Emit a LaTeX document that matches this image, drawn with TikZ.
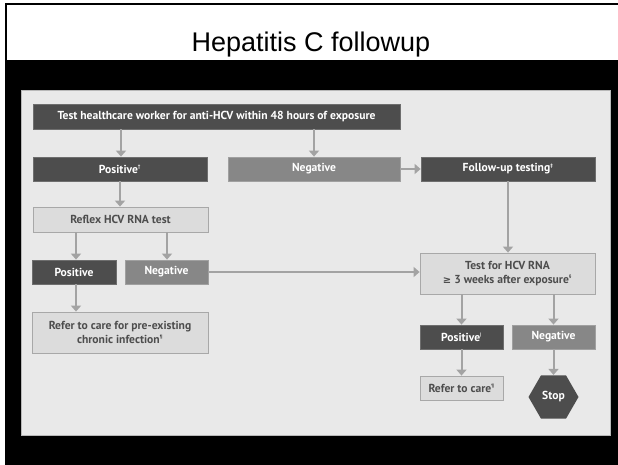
\documentclass[tikz,border=0pt]{standalone}
\usepackage{fontspec}
\setmainfont{PT Sans}
\newfontfamily\titlefont{Liberation Sans}
\newfontfamily\symfont{DejaVu Sans}
\usetikzlibrary{arrows.meta,shapes.geometric}
\definecolor{panelbg}{HTML}{E9E9E9}
\definecolor{panelline}{HTML}{B8B8B8}
\definecolor{darkbox}{HTML}{4D4D4D}
\definecolor{darkline}{HTML}{6E6E6E}
\definecolor{midbox}{HTML}{878787}
\definecolor{midline}{HTML}{A0A0A0}
\definecolor{lightbox}{HTML}{DCDCDC}
\definecolor{lightline}{HTML}{A8A8A8}
\definecolor{arrowgray}{HTML}{A3A3A3}
\newcommand{\sm}[1]{\textsuperscript{\fontsize{5}{5}\selectfont #1}}
\tikzset{
  x=1pt, y=-1pt,
  boxbase/.style={rectangle, inner sep=0pt, line width=0.8pt, align=center,
    font=\fontsize{11.6}{13.5}\selectfont\bfseries},
  darkb/.style={boxbase, fill=darkbox, draw=darkline, text=white},
  midb/.style={boxbase, fill=midbox, draw=midline, text=white},
  lightb/.style={boxbase, fill=lightbox, draw=lightline, text=darkbox},
  flow/.style={draw=arrowgray, line width=2pt, -{Triangle[width=10pt,length=6pt]}},
  plain/.style={draw=arrowgray, line width=2pt}
}
\begin{document}
\begin{tikzpicture}
\useasboundingbox (0,0) rectangle (618,465);
\fill[white] (0,0) rectangle (618,465);
% frame
\fill[black] (5,60) rectangle (618,465);
\draw[black, line width=2pt] (6,60) -- (6,4) -- (618,4);
\node[font=\titlefont\fontsize{27}{31}\selectfont, anchor=base] (title) at (311,52) {Hepatitis C followup};
% panel
\draw[panelline, fill=panelbg, line width=0.8pt] (21,90) rectangle (610,435);
% nodes
\node[darkb, minimum width=367pt, minimum height=25pt] (top) at (216.5,116.5) {Test healthcare worker for anti-HCV within 48 hours of exposure};
\node[darkb, minimum width=174pt, minimum height=24pt] (pos1) at (120,169) {Positive\sm{†}};
\node[midb, minimum width=172pt, minimum height=24pt] (neg1) at (314,169) {Negative};
\node[darkb, minimum width=174pt, minimum height=24pt] (fu) at (508,169) {Follow-up testing\sm{‡}};
\node[lightb, minimum width=175pt, minimum height=25pt] (reflex) at (120.5,219.5) {Reflex HCV RNA test};
\node[darkb, minimum width=84pt, minimum height=24pt] (pos2) at (74,272) {Positive};
\node[midb, minimum width=83pt, minimum height=24pt] (neg2) at (166.5,272) {Negative};
\node[lightb, minimum width=176pt, minimum height=41pt] (refer1) at (120,332.5) {Refer to care for pre-existing\\chronic infection\sm{¶}};
\node[lightb, minimum width=175pt, minimum height=41pt] (test) at (507.5,273.5) {Test for HCV RNA\\{\symfont\fontsize{10}{12}\selectfont ≥} 3 weeks after exposure\sm{§}};
\node[darkb, minimum width=83pt, minimum height=24pt] (pos3) at (461.5,337) {Positive\sm{|}};
\node[midb, minimum width=83pt, minimum height=24pt] (neg3) at (553.5,337) {Negative};
\node[lightb, minimum width=83pt, minimum height=24pt] (refer2) at (461.5,388) {Refer to care\sm{¶}};
\node[boxbase, regular polygon, regular polygon sides=6, minimum size=50pt, fill=darkbox, draw=none, text=white] (stop) at (553.5,397) {Stop};
% connectors
\coordinate (a1) at (121,0);
\draw[flow] (top.south -| a1) -- (pos1.north -| a1);
\draw[flow] (top.south -| neg1) -- (neg1.north);
\draw[flow] (neg1.east) -- (fu.west);
\draw[flow] (pos1.south) -- (reflex.north -| pos1);
\coordinate (a2) at (76,0);
\coordinate (a3) at (167,0);
\draw[flow] (reflex.south -| a2) -- (pos2.north -| a2);
\draw[flow] (reflex.south -| a3) -- (neg2.north -| a3);
\draw[flow] (pos2.south -| a2) -- (refer1.north -| a2);
\draw[flow] (neg2.east) -- (test.west |- neg2.east);
\draw[flow] (fu.south) -- (test.north -| fu);
\draw[flow] (test.south -| pos3) -- (pos3.north);
\draw[flow] (test.south -| neg3) -- (neg3.north);
\draw[flow] (pos3.south) -- (refer2.north);
\draw[flow] (neg3.south) -- (stop.north -| neg3);
\end{tikzpicture}
\end{document}
